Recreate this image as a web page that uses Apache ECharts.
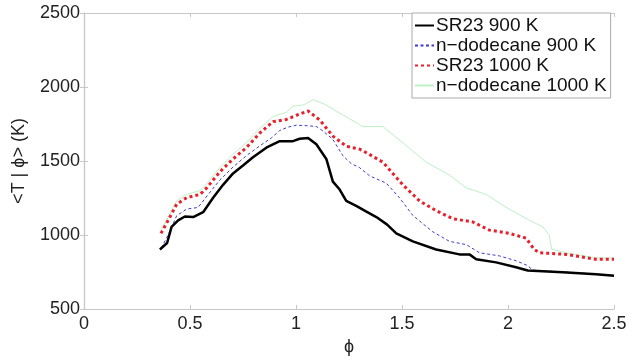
<!DOCTYPE html>
<html><head><meta charset="utf-8">
<script src="https://cdn.jsdelivr.net/npm/echarts@6/dist/echarts.min.js"></script>
<style>html,body{margin:0;padding:0;background:#fff}#c{width:637px;height:361px}</style>
</head><body><div id="c"></div>
<script>
var xTicks = [0, 0.5, 1, 1.5, 2, 2.5];
var yTicks = [500, 1000, 1500, 2000, 2500];
var seriesNames = ['SR23 900 K', 'n\u2212dodecane 900 K', 'SR23 1000 K', 'n\u2212dodecane 1000 K'];

var sr900X = [0.358,0.392,0.413,0.444,0.476,0.515,0.562,0.609,0.656,0.703,0.750,0.797,0.860,0.923,0.986,1.017,1.057,1.096,1.143,1.174,1.206,1.237,1.284,1.330,1.379,1.430,1.473,1.551,1.661,1.771,1.818,1.850,1.944,2.038,2.093,2.258,2.415,2.500];
var sr900Y = [902,946,1055,1099,1125,1121,1154,1252,1339,1416,1470,1525,1590,1634,1634,1650,1656,1613,1514,1361,1307,1230,1197,1160,1121,1070,1011,957,902,869,869,836,815,782,760,749,734,725];

var dd900X = [0.365,0.400,0.437,0.484,0.538,0.586,0.641,0.703,0.766,0.829,0.884,0.923,0.960,1.002,1.057,1.096,1.130,1.174,1.221,1.261,1.300,1.347,1.426,1.488,1.551,1.645,1.724,1.803,1.865,1.959,2.038,2.093,2.117,2.258,2.415,2.500];
var dd900Y = [912,1010,1130,1175,1186,1274,1372,1459,1536,1602,1656,1706,1728,1742,1738,1733,1700,1646,1536,1482,1455,1400,1350,1252,1132,1022,957,935,880,859,826,793,762,751,736,727];

var sr1000X = [0.363,0.397,0.437,0.484,0.547,0.578,0.641,0.703,0.766,0.829,0.892,0.955,1.002,1.057,1.112,1.174,1.237,1.300,1.316,1.410,1.504,1.583,1.661,1.740,1.834,1.912,2.006,2.085,2.124,2.148,2.273,2.415,2.500];
var sr1000Y = [1011,1099,1208,1252,1274,1317,1427,1514,1590,1689,1766,1781,1809,1838,1777,1668,1600,1580,1569,1492,1339,1230,1164,1110,1088,1033,1011,979,902,880,869,836,836];

var dd1000X = [0.363,0.397,0.437,0.484,0.547,0.578,0.641,0.703,0.766,0.829,0.892,0.955,0.986,1.040,1.080,1.140,1.237,1.316,1.410,1.504,1.614,1.724,1.803,1.897,1.991,2.101,2.164,2.195,2.205,2.273,2.415,2.500];
var dd1000Y = [1030,1120,1230,1275,1300,1345,1455,1545,1625,1720,1800,1830,1870,1880,1915,1880,1798,1733,1733,1623,1492,1405,1318,1274,1187,1099,1055,1000,905,880,845,845];

function pairs(xs, ys) { return xs.map(function (x, i) { return [x, ys[i]]; }); }

var FONT = '"Liberation Sans", Arial, Helvetica, sans-serif';
var axisCol = '#c8c8c8';
var chart = echarts.init(document.getElementById('c'), null, {renderer: 'canvas'});
var baseX = {
  type: 'value', min: 0, max: 2.5, interval: 0.5,
  axisLine: {show: true, lineStyle: {color: axisCol, width: 1.2}},
  axisTick: {show: true, inside: true, length: 4, lineStyle: {color: axisCol}},
  splitLine: {show: false}
};
var baseY = {
  type: 'value', min: 500, max: 2500, interval: 500,
  axisLine: {show: true, lineStyle: {color: axisCol, width: 1.2}},
  axisTick: {show: true, inside: true, length: 4, lineStyle: {color: axisCol}},
  splitLine: {show: false}
};
var colors = ['#000000', '#3d3dc8', '#e8202a', '#bdf0c4'];
function mk(i, xs, ys, width, type, z) {
  return {
    name: seriesNames[i], type: 'line', data: pairs(xs, ys),
    symbol: 'none', showSymbol: false, color: colors[i],
    itemStyle: {color: colors[i]},
    lineStyle: {color: colors[i], width: width, type: type}, z: z
  };
}
chart.setOption({
  animation: false,
  backgroundColor: '#fff',
  grid: {left: 84, right: 23, top: 13, bottom: 43},
  xAxis: [
    Object.assign({}, baseX, {
      position: 'bottom',
      name: '\u03d5', nameLocation: 'middle', nameGap: 29,
      nameTextStyle: {fontFamily: FONT, fontSize: 18, color: '#222'},
      axisLabel: {fontFamily: FONT, fontSize: 18, color: '#222', margin: 6,
        formatter: function (v) { return String(v); }}
    }),
    Object.assign({}, baseX, {position: 'top', axisLabel: {show: false}})
  ],
  yAxis: [
    Object.assign({}, baseY, {
      position: 'left',
      name: '<T | \u03d5> (K)', nameLocation: 'middle', nameGap: 56, nameRotate: 90,
      nameTextStyle: {fontFamily: FONT, fontSize: 18, color: '#222'},
      axisLabel: {fontFamily: FONT, fontSize: 18, color: '#222', margin: 4,
        formatter: function (v) { return String(v); }}
    }),
    Object.assign({}, baseY, {position: 'right', axisLabel: {show: false}})
  ],
  legend: {
    orient: 'vertical', left: 412, top: 13,
    data: seriesNames,
    backgroundColor: '#fff', borderColor: '#aaa', borderWidth: 1, borderRadius: 0,
    padding: [3, 4, 3, 2], itemGap: 1, itemWidth: 19, itemHeight: 18,
    itemStyle: {opacity: 0},
    textStyle: {fontFamily: FONT, fontSize: 19, color: '#111', padding: [0, 0, 0, -3]}
  },
  series: [
    mk(3, dd1000X, dd1000Y, 1, 'solid', 1),
    mk(1, dd900X, dd900Y, 1, [3, 2.5], 2),
    mk(2, sr1000X, sr1000Y, 3, [3, 3], 3),
    mk(0, sr900X, sr900Y, 2.5, 'solid', 4)
  ]
});
</script></body></html>
